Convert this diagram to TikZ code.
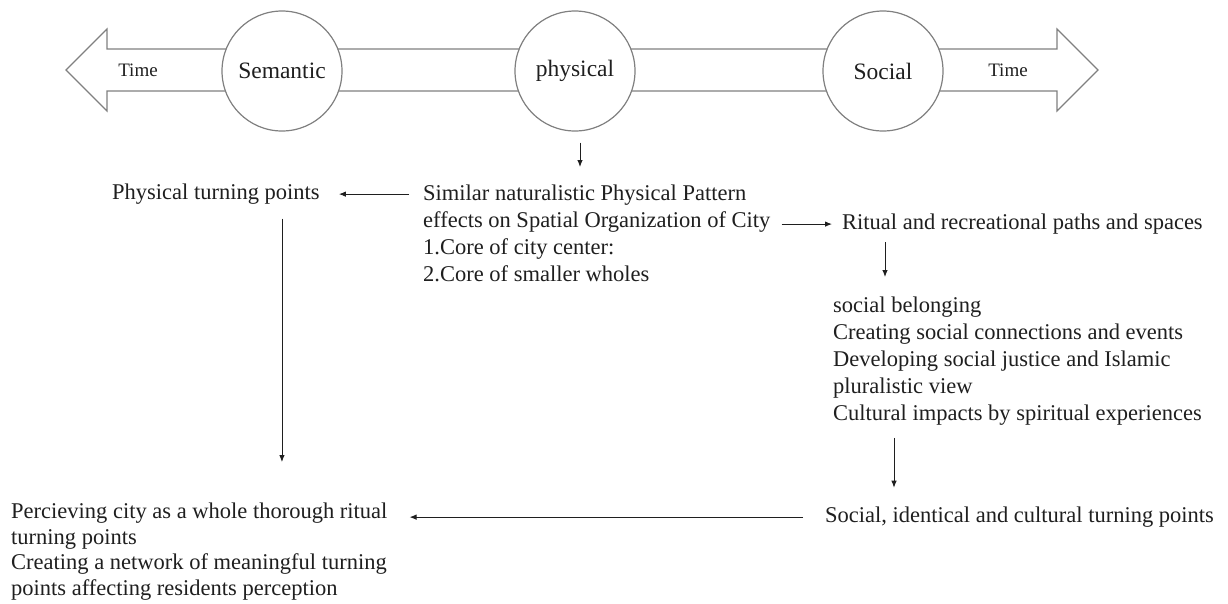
\documentclass[tikz,border=0pt]{standalone}
\usepackage{fontspec}
\setmainfont{Liberation Serif}
\usetikzlibrary{arrows.meta, positioning}
\definecolor{OutlineGray}{HTML}{808080}
\definecolor{InkDark}{HTML}{1F1F1F}

\tikzset{
  note/.style={font=\fontsize{22.5}{27}\selectfont, text=InkDark, inner sep=0pt, align=left},
  hub/.style={circle, draw=OutlineGray, fill=white, line width=1.2pt, minimum size=120pt, inner sep=0pt, font=\fontsize{23.5}{28}\selectfont, text=InkDark},
  timelabel/.style={font=\fontsize{19}{23}\selectfont, text=InkDark, inner sep=0pt},
  flow/.style={-{Latex[length=7pt,width=5.5pt]}, line width=0.9pt, draw=InkDark},
}

\begin{document}
\begin{tikzpicture}[x=1pt, y=-1pt]
  \useasboundingbox[fill=white] (0,0) rectangle (1228,603);

  % Time axis
  \draw[draw=OutlineGray, line width=1.2pt] (66,70) -- (107,29) -- (107,49) -- (1057,49) -- (1057,29) -- (1098,70) -- (1057,111) -- (1057,91) -- (107,91) -- (107,111) -- cycle;
  \node[timelabel] (timeL) at (138,70) {Time};
  \node[timelabel] (timeR) at (1008,70) {Time};

  % Dimensions
  \node[hub] (semantic) at (282,71) {Semantic};
  \node[hub] (physical) at (575,71) {physical};
  \node[hub] (social) at (883,71) {Social};

  % Texts
  \node[note, anchor=base west] (physTP) at (112,199.5) {Physical turning points};
  \node[note, anchor=north west] (pattern) at (423,185) {Similar naturalistic Physical Pattern\\effects on Spatial Organization of City\\1.Core of city center:\\2.Core of smaller wholes};
  \node[note, anchor=base west] (ritual) at (842,229.5) {Ritual and recreational paths and spaces};
  \node[note, anchor=north west] (belong) at (833,297) {social belonging\\Creating social connections and events\\Developing social justice and Islamic\\pluralistic view\\Cultural impacts by spiritual experiences};
  \node[note, anchor=base west] (socialTP) at (825,522.5) {Social, identical and cultural turning points};
  \node[note, anchor=north west, font=\fontsize{22.5}{25.5}\selectfont] (whole) at (11,503) {Percieving city as a whole thorough ritual\\turning points\\Creating a network of meaningful turning\\points affecting residents perception};

  % Links
  \draw[flow, shorten <=11pt, shorten >=18pt] ([xshift=5pt]physical.south) -- ([xshift=5pt]physical.south |- pattern.north);
  \draw[flow, shorten <=14pt, shorten >=19pt] (pattern.west |- physTP) -- (physTP.east);
  \draw[flow, shorten <=11pt, shorten >=10pt] (pattern.east |- ritual) -- (ritual.west);
  \draw[flow, shorten <=8pt, shorten >=20pt] ([xshift=43pt]ritual.south west) -- ([xshift=43pt]ritual.south west |- belong.north);
  \draw[flow, shorten <=12pt, shorten >=19pt] ([xshift=61pt]belong.south west) -- ([xshift=61pt]belong.south west |- socialTP.north);
  \draw[flow, shorten <=22pt, shorten >=22pt] (socialTP.west) -- (whole.east |- socialTP.west);
  \draw[flow, shorten <=14pt, shorten >=41pt] ([xshift=66pt]physTP.south) -- ([xshift=66pt]physTP.south |- whole.north);
\end{tikzpicture}
\end{document}
